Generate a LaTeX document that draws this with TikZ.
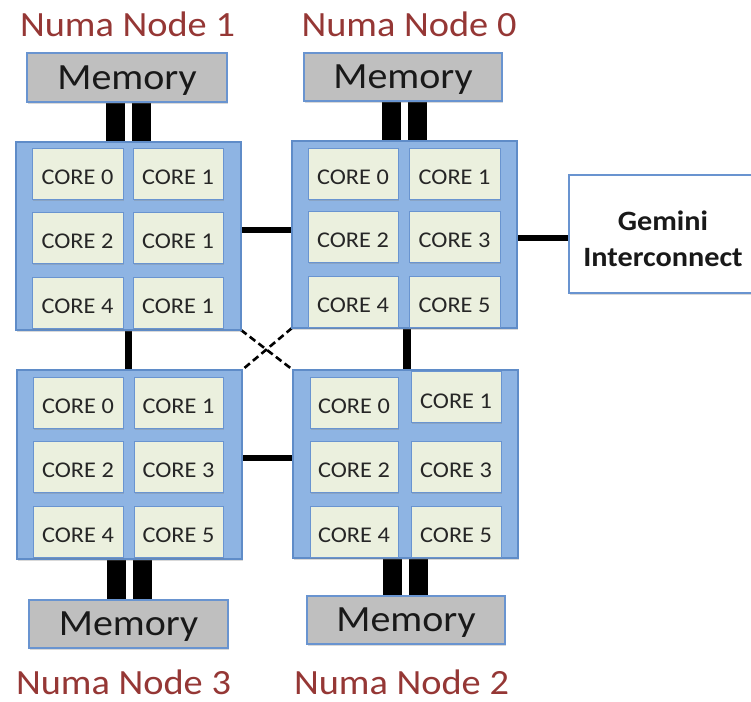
\documentclass[tikz,border=0pt]{standalone}
\usepackage{fontspec}
\setmainfont[FakeStretch=1.08]{Carlito}
\usetikzlibrary{shadows,backgrounds}

\definecolor{numafill}{RGB}{142,180,227}
\definecolor{numaline}{RGB}{95,140,200}
\definecolor{corefill}{RGB}{235,240,222}
\definecolor{coreline}{RGB}{105,148,208}
\definecolor{memfill}{RGB}{191,191,191}
\definecolor{titlered}{RGB}{149,55,53}
\definecolor{coretext}{RGB}{38,38,38}

\begin{document}
\begin{tikzpicture}[x=1pt,y=-1pt,
  softshadow/.style={drop shadow={shadow xshift=1.2pt,shadow yshift=-1.5pt,opacity=0.3}},
  numabox/.style={rectangle,draw=numaline,fill=numafill,line width=1.2pt,
    minimum width=225pt,minimum height=188pt,inner sep=0pt,outer sep=0pt,softshadow},
  corebox/.style={rectangle,draw=coreline,fill=corefill,line width=1pt,
    minimum width=90pt,minimum height=51pt,inner sep=0pt,outer sep=0pt,
    text=coretext,font=\fontsize{22.5}{27}\selectfont,
    text height=22.3pt,text depth=0pt,softshadow},
  membox/.style={rectangle,draw=coreline,fill=memfill,line width=1.2pt,
    minimum width=199pt,minimum height=48pt,inner sep=0pt,outer sep=0pt,
    font=\fontsize{37}{42}\selectfont,text=black!90,
    text height=23.3pt,text depth=0pt,softshadow},
  gembox/.style={rectangle,draw=coreline,fill=white,line width=1.2pt,
    minimum width=188pt,minimum height=118pt,inner sep=0pt,outer sep=0pt,softshadow},
  gemtextstyle/.style={align=center,inner sep=0pt,
    font=\fontsize{28}{36}\selectfont\bfseries,text=black!90},
  numatitle/.style={anchor=base,inner sep=0pt,text=titlered,
    font=\fontsize{35.5}{40}\selectfont},
  hlink/.style={line width=6pt,black},
  vlink/.style={line width=7.5pt,black},
  crosslink/.style={line width=2.6pt,black,dash pattern=on 7pt off 4pt},
  bus/.style={line width=19.5pt,black}]

\useasboundingbox (0,0) rectangle (751,701);

% titles
\node[numatitle] (t1) at (127.5,37) {Numa Node 1};
\node[numatitle] (t0) at (409,37) {Numa Node 0};
\node[numatitle] (t3) at (123.5,694) {Numa Node 3};
\node[numatitle] (t2) at (401.5,694) {Numa Node 2};

% memory banks
\node[membox,minimum width=200pt,minimum height=49pt] (m1) at (127,77.5) {Memory};
\node[membox,minimum width=198pt] (m0) at (403,77) {Memory};
\node[membox] (m3) at (128.5,624) {Memory};
\node[membox,minimum width=198pt] (m2) at (406,620) {Memory};

% numa node boxes
\node[numabox] (n1) at (128.5,236) {};
\node[numabox,minimum height=187pt] (n0) at (404.5,234.5) {};
\node[numabox,minimum height=189pt] (n3) at (129.5,464.5) {};
\node[numabox] (n2) at (405.5,464) {};

% interconnect
\node[gembox] (gem) at (663,234) {};
\node[gemtextstyle] (gemtext) at (663,238.5) {Gemini\\Interconnect};

% cores of node 1
\node[corebox,minimum width=91pt] (c1a) at (77.5,173.5) {CORE 0};
\node[corebox] (c1b) at (178,173.5) {CORE 1};
\node[corebox,minimum width=91pt] (c1c) at (77.5,237.5) {CORE 2};
\node[corebox] (c1d) at (178,237.5) {CORE 1};
\node[corebox,minimum width=91pt] (c1e) at (77.5,302.5) {CORE 4};
\node[corebox] (c1f) at (178,302.5) {CORE 1};

% cores of node 0
\node[corebox] (c0a) at (353,173.5) {CORE 0};
\node[corebox,minimum width=91pt] (c0b) at (454.5,173.5) {CORE 1};
\node[corebox] (c0c) at (353,236.5) {CORE 2};
\node[corebox,minimum width=91pt] (c0d) at (454.5,236.5) {CORE 3};
\node[corebox] (c0e) at (353,301.5) {CORE 4};
\node[corebox,minimum width=91pt] (c0f) at (454.5,301.5) {CORE 5};

% cores of node 3
\node[corebox] (c3a) at (78,402.5) {CORE 0};
\node[corebox,minimum width=89pt] (c3b) at (178.5,402.5) {CORE 1};
\node[corebox] (c3c) at (78,466.5) {CORE 2};
\node[corebox,minimum width=89pt] (c3d) at (178.5,466.5) {CORE 3};
\node[corebox] (c3e) at (78,531.5) {CORE 4};
\node[corebox,minimum width=89pt] (c3f) at (178.5,531.5) {CORE 5};

% cores of node 2
\node[corebox,minimum width=88pt] (c2a) at (354,402.5) {CORE 0};
\node[corebox] (c2b) at (456,397) {CORE 1};
\node[corebox,minimum width=88pt] (c2c) at (354,466.5) {CORE 2};
\node[corebox] (c2d) at (456,466.5) {CORE 3};
\node[corebox,minimum width=88pt] (c2e) at (354,531.5) {CORE 4};
\node[corebox] (c2f) at (456,531.5) {CORE 5};

\begin{scope}[on background layer]
  % memory buses
  \foreach \n/\m in {n1/m1,n0/m0,n3/m3,n2/m2}{
    \draw[bus] ([xshift=-13pt]\n.center |- \n.north) -- ([xshift=-13pt]\n.center |- \m.south);
    \draw[bus] ([xshift=13pt]\n.center |- \n.north) -- ([xshift=13pt]\n.center |- \m.south);
  }
  % node-to-node links
  \draw[hlink] (n1.east |- 0,230) -- (n0.west |- 0,230);
  \draw[hlink] (n3.east |- 0,458) -- (n2.west |- 0,458);
  \draw[vlink] (n1.south -| 128.5,0) -- (n3.north -| 128.5,0);
  \draw[vlink] (n0.south -| 407,0) -- (n2.north -| 407,0);
  \draw[hlink] (n0.east |- 0,238) -- (gem.west |- 0,238);
  % diagonal links
  \draw[crosslink] (n1.south east) -- (n2.north west);
  \draw[crosslink] (n0.south west) -- (n3.north east);
\end{scope}
\end{tikzpicture}
\end{document}
